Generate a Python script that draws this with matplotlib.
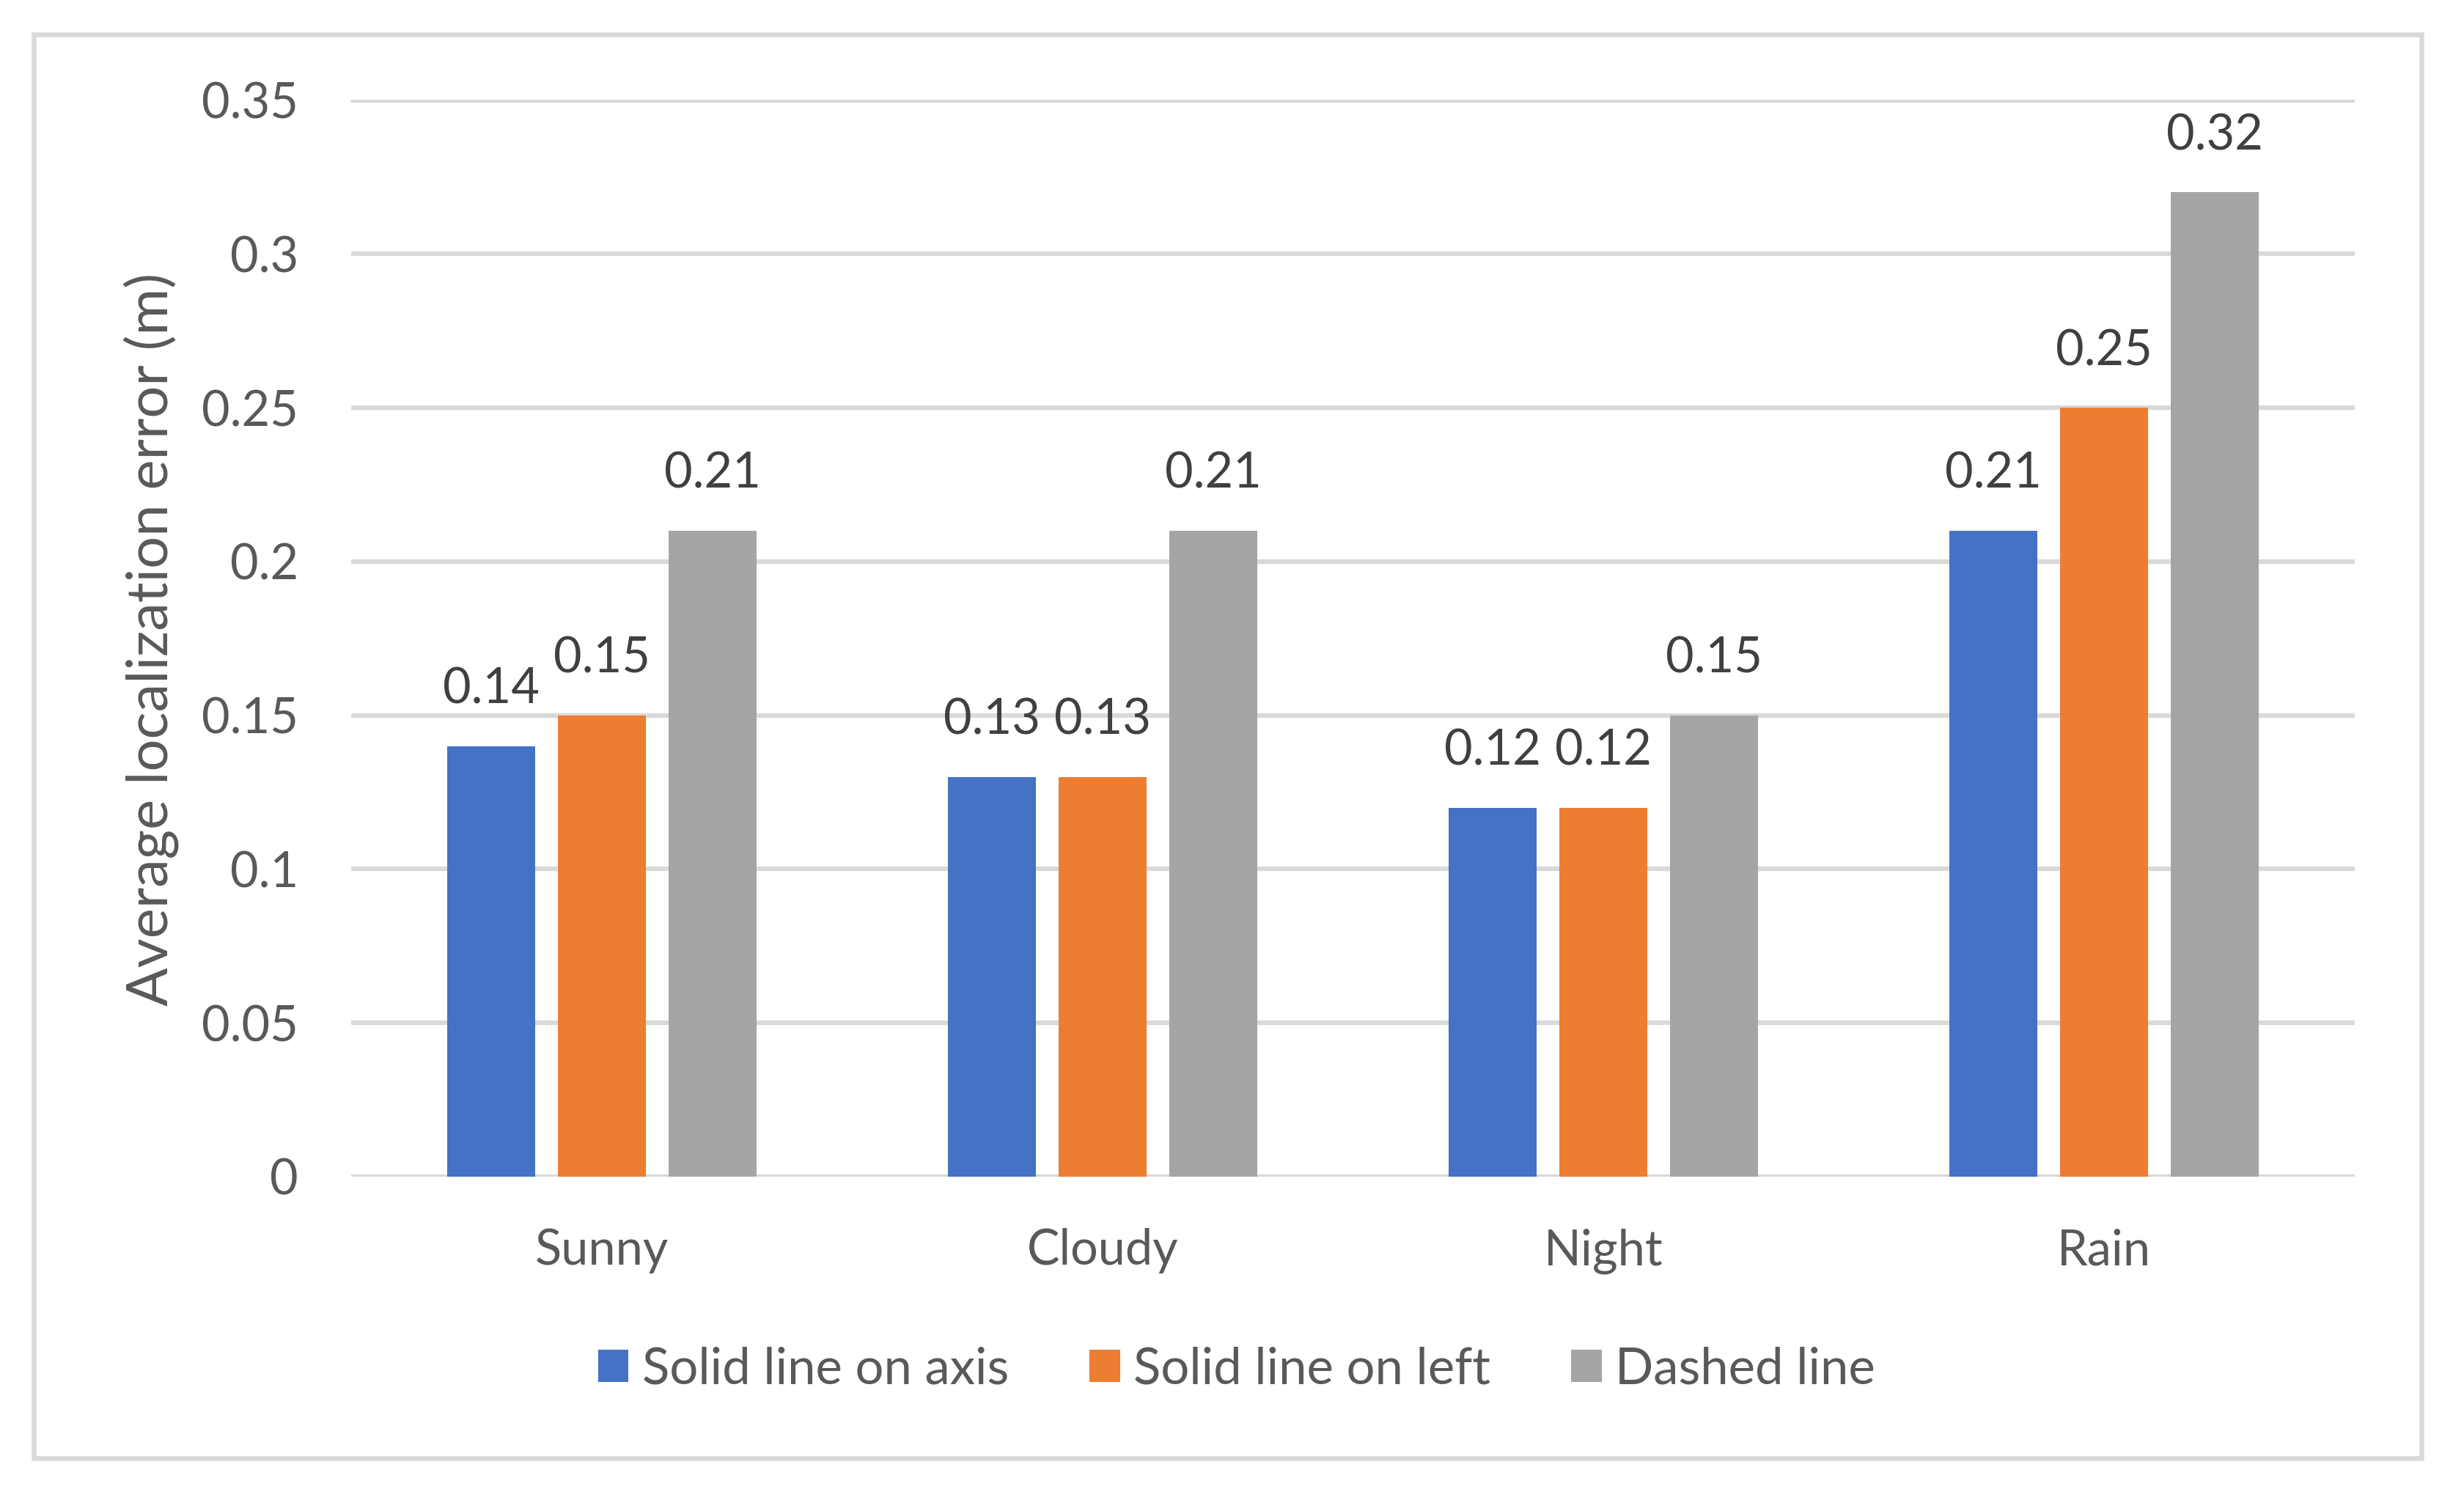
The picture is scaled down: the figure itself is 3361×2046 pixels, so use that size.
import numpy as np
import matplotlib.pyplot as plt
from matplotlib.patches import Rectangle, Patch
from matplotlib.ticker import FuncFormatter

plt.rcParams['font.family'] = ['Lato', 'DejaVu Sans']

categories = ['Sunny', 'Cloudy', 'Night', 'Rain']
series_names = ['Solid line on axis', 'Solid line on left', 'Dashed line']
on_axis = [0.14, 0.13, 0.12, 0.21]
on_left = [0.15, 0.13, 0.12, 0.25]
dashed = [0.21, 0.21, 0.15, 0.32]
y_ticks = [0, 0.05, 0.1, 0.15, 0.2, 0.25, 0.3, 0.35]

colors = ['#4472C4', '#ED7D31', '#A5A5A5']
text_grey = '#595959'
label_grey = '#404040'
grid_grey = '#D9D9D9'

W, H = 3361, 2046
dpi = 200
fig = plt.figure(figsize=(W / dpi, H / dpi), dpi=dpi)
px = 72 / dpi  # points per pixel

ax = fig.add_axes([479 / W, 1 - 1605 / H, (3212 - 479) / W, (1605 - 136.5) / H])

x = np.arange(len(categories))
width = 0.1756
step = 0.221
for i, vals in enumerate([on_axis, on_left, dashed]):
    pos = x + (i - 1) * step
    ax.bar(pos, vals, width, color=colors[i], zorder=3, label=series_names[i])
    for xp, v in zip(pos, vals):
        ax.annotate(f'{v:g}', (xp, v), xytext=(0, 58 * px), textcoords='offset points',
                    ha='center', va='baseline', fontsize=24, color=label_grey)

ax.set_xlim(-0.5, len(categories) - 0.5)
ax.set_ylim(0, 0.35)
ax.set_yticks(y_ticks)
ax.yaxis.set_major_formatter(FuncFormatter(lambda v, p: f'{v:g}'))
ax.set_xticks(x)
ax.set_xticklabels(categories)
ax.tick_params(axis='both', length=0, labelsize=24, labelcolor=text_grey)
ax.tick_params(axis='y', pad=72 * px)
ax.tick_params(axis='x', pad=70 * px)
ax.grid(axis='y', color=grid_grey, lw=6.3 * px, zorder=0)
ax.set_axisbelow(True)
for s in ax.spines.values():
    s.set_visible(False)

fig.text(206 / W, 1 - 872 / H, 'Average localization error (m)', rotation=90,
         ha='center', va='center', fontsize=28, color=text_grey)

handles = [Patch(facecolor=c, edgecolor='none') for c in colors]
fig.legend(handles, series_names, loc='center', bbox_to_anchor=(1687 / W, 1 - 1868 / H),
           ncol=3, frameon=False, fontsize=24.8, labelcolor=text_grey,
           handlelength=0.6, handleheight=0.61, handletextpad=0.27,
           columnspacing=1.6, borderpad=0, borderaxespad=0)

fig.patches.append(Rectangle((45.5 / W, 1 - 1988.5 / H), (3302.5 - 45.5) / W, (1988.5 - 47) / H,
                             transform=fig.transFigure, fill=False,
                             edgecolor=grid_grey, lw=6.5 * px))

fig.savefig('out.png', dpi=dpi)
